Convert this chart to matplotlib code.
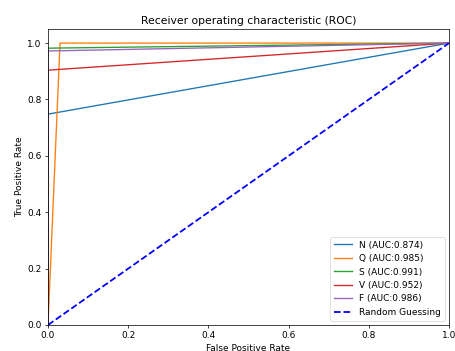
import matplotlib
matplotlib.use("Agg")
import matplotlib.pyplot as plt

classes = ["N", "Q", "S", "V", "F"]
aucs = [0.874, 0.985, 0.991, 0.952, 0.986]
fprs = [[0.0, 0.0, 1.0], [0.0, 0.03, 1.0], [0.0, 0.0, 1.0], [0.0, 0.0, 1.0], [0.0, 0.0, 1.0]]
tprs = [[0.0, 0.748, 1.0], [0.0, 1.0, 1.0], [0.0, 0.982, 1.0], [0.0, 0.904, 1.0], [0.0, 0.972, 1.0]]
colors = ["#1f77b4", "#ff7f0e", "#2ca02c", "#d62728", "#9467bd"]

s = 0.645
W, H = 455, 351
fig = plt.figure(figsize=(W / 100, H / 100), dpi=100)
ax = fig.add_axes([48 / W, (H - 325) / H, (449 - 48) / W, (325 - 29) / H])

for c, a, f, t, col in zip(classes, aucs, fprs, tprs, colors):
    ax.plot(f, t, color=col, lw=1.5 * s, label=f"{c} (AUC:{a:.3f})")
ax.plot([0, 1], [0, 1], color="blue", lw=2 * s, ls="--", label="Random Guessing")

ax.set_xlim(0, 1)
ax.set_ylim(0, 1.05)
ax.set_xticks([0, 0.2, 0.4, 0.6, 0.8, 1.0])
ax.set_yticks([0, 0.2, 0.4, 0.6, 0.8, 1.0])
for sp in ax.spines.values():
    sp.set_linewidth(0.8 * s)
ax.tick_params(labelsize=10 * s, length=3.5 * s, width=0.8 * s, pad=3.5 * s)
ax.set_xlabel("False Positive Rate", fontsize=10 * s, labelpad=4 * s)
ax.set_ylabel("True Positive Rate", fontsize=10 * s, labelpad=4 * s)
ax.set_title("Receiver operating characteristic (ROC)", fontsize=12 * s, pad=6 * s)
leg = ax.legend(loc="lower right", fontsize=10 * s)
leg.get_frame().set_linewidth(0.8 * s)

fig.savefig("out.png", dpi=100)
